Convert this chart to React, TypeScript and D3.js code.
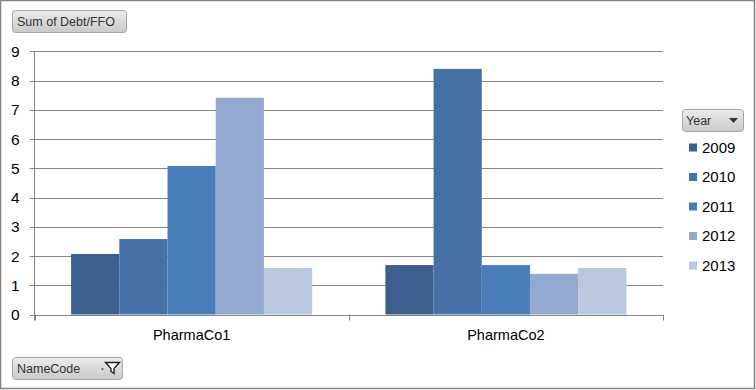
import React from "react";
import * as d3 from "d3";

const categories = ["PharmaCo1", "PharmaCo2"];
const years = ["2009", "2010", "2011", "2012", "2013"];
const values2009 = [2.07, 1.69];
const values2010 = [2.58, 8.4];
const values2011 = [5.08, 1.69];
const values2012 = [7.41, 1.39];
const values2013 = [1.59, 1.59];
const seriesValues = [values2009, values2010, values2011, values2012, values2013];
const colors = ["#3B5F8F", "#4571A6", "#4A7EBB", "#93A9CF", "#B9C7E0"];
const yTicks = [0, 1, 2, 3, 4, 5, 6, 7, 8, 9];

const W = 756;
const H = 390;
const plotLeft = 34.5;
const plotRight = 663;
const plotTop = 51.3;
const plotBottom = 314.5;
const FONT = "'Liberation Sans', Arial, sans-serif";
const BTN_FONT = "'Liberation Sans', Arial, sans-serif";

export default function App() {
  const x0 = d3.scaleBand<string>().domain(categories).range([plotLeft, plotRight]).paddingInner(0).paddingOuter(0);
  const bw = x0.bandwidth();
  const gap = bw * 0.1165;
  const x1 = d3.scaleBand<string>().domain(years).range([gap, bw - gap]).padding(0);
  const y = d3.scaleLinear().domain([0, 9]).range([plotBottom, plotTop]);

  const boundaries = [plotLeft, ...categories.map((c) => (x0(c) as number) + bw)];

  return (
    <div style={{ position: "fixed", left: 0, top: 0 }}>
      <svg width={W} height={H} style={{ display: "block", background: "#fff" }}>
        <defs>
          <linearGradient id="btn" x1="0" y1="0" x2="0" y2="1">
            <stop offset="0" stopColor="#ececec" />
            <stop offset="1" stopColor="#c9c9c9" />
          </linearGradient>
        </defs>
        <rect x={0.5} y={0.5} width={754} height={388} fill="#fff" stroke="#828282" strokeWidth={1.5} />

        {/* gridlines + y ticks */}
        {yTicks.map((t) => (
          <g key={t}>
            <line x1={29.5} x2={plotRight} y1={Math.round(y(t)) + 0.5} y2={Math.round(y(t)) + 0.5} stroke="#868686" strokeWidth={1} />
            <text x={19.5} y={y(t)} dy="0.36em" textAnchor="end" fontFamily={FONT} fontSize={15.5} fill="#000">
              {t}
            </text>
          </g>
        ))}
        <line x1={plotLeft} x2={plotLeft} y1={plotTop} y2={plotBottom + 6} stroke="#868686" strokeWidth={1} />

        {/* bars */}
        {categories.map((c, ci) => (
          <g key={c} transform={`translate(${x0(c)},0)`}>
            {years.map((yr, si) => {
              const v = seriesValues[si][ci];
              return (
                <rect
                  key={yr}
                  x={x1(yr)}
                  y={y(v)}
                  width={x1.bandwidth()}
                  height={y(0) - y(v)}
                  fill={colors[si]}
                />
              );
            })}
          </g>
        ))}

        {/* x axis */}
        <line x1={plotLeft} x2={plotRight} y1={Math.round(plotBottom) + 0.5} y2={Math.round(plotBottom) + 0.5} stroke="#868686" />
        {boundaries.map((b, i) => (
          <line key={i} x1={Math.round(b) + 0.5} x2={Math.round(b) + 0.5} y1={plotBottom} y2={plotBottom + 6} stroke="#868686" />
        ))}
        {categories.map((c) => (
          <text key={c} x={(x0(c) as number) + bw / 2} y={340} textAnchor="middle" fontFamily={FONT} fontSize={14.5} fill="#000">
            {c}
          </text>
        ))}

        {/* Sum of Debt/FFO button */}
        <rect x={12.5} y={10.5} width={114} height={22} rx={3} fill="url(#btn)" stroke="#a6a6a6" />
        <text x={17} y={26} fontFamily={BTN_FONT} fontSize={12.5} fill="#333">Sum of Debt/FFO</text>

        {/* NameCode button */}
        <rect x={12.5} y={357.5} width={110} height={22} rx={3} fill="url(#btn)" stroke="#a6a6a6" />
        <text x={17} y={373} fontFamily={BTN_FONT} fontSize={12.5} fill="#333">NameCode</text>
        <path d="M101,368.5 h3 l-1.5,2 z" fill="#333" />
        <path d="M105.5,362.5 h14 l-5.5,6 v5 l-3,-2 v-3 z" fill="#fff" stroke="#222" strokeWidth={1.4} />

        {/* Legend */}
        <rect x={682.5} y={109.5} width={61} height={22} rx={3} fill="url(#btn)" stroke="#a6a6a6" />
        <text x={686} y={125} fontFamily={BTN_FONT} fontSize={12.5} fill="#333">Year</text>
        <path d="M729,118 h9 l-4.5,5 z" fill="#333" />
        {years.map((yr, i) => {
          const cy = 147.5 + i * 29.5;
          return (
            <g key={yr}>
              <rect x={689} y={cy - 4} width={8} height={8} fill={colors[i]} />
              <text x={702} y={cy} dy="0.36em" fontFamily={FONT} fontSize={15} fill="#000">
                {yr}
              </text>
            </g>
          );
        })}
      </svg>
    </div>
  );
}
